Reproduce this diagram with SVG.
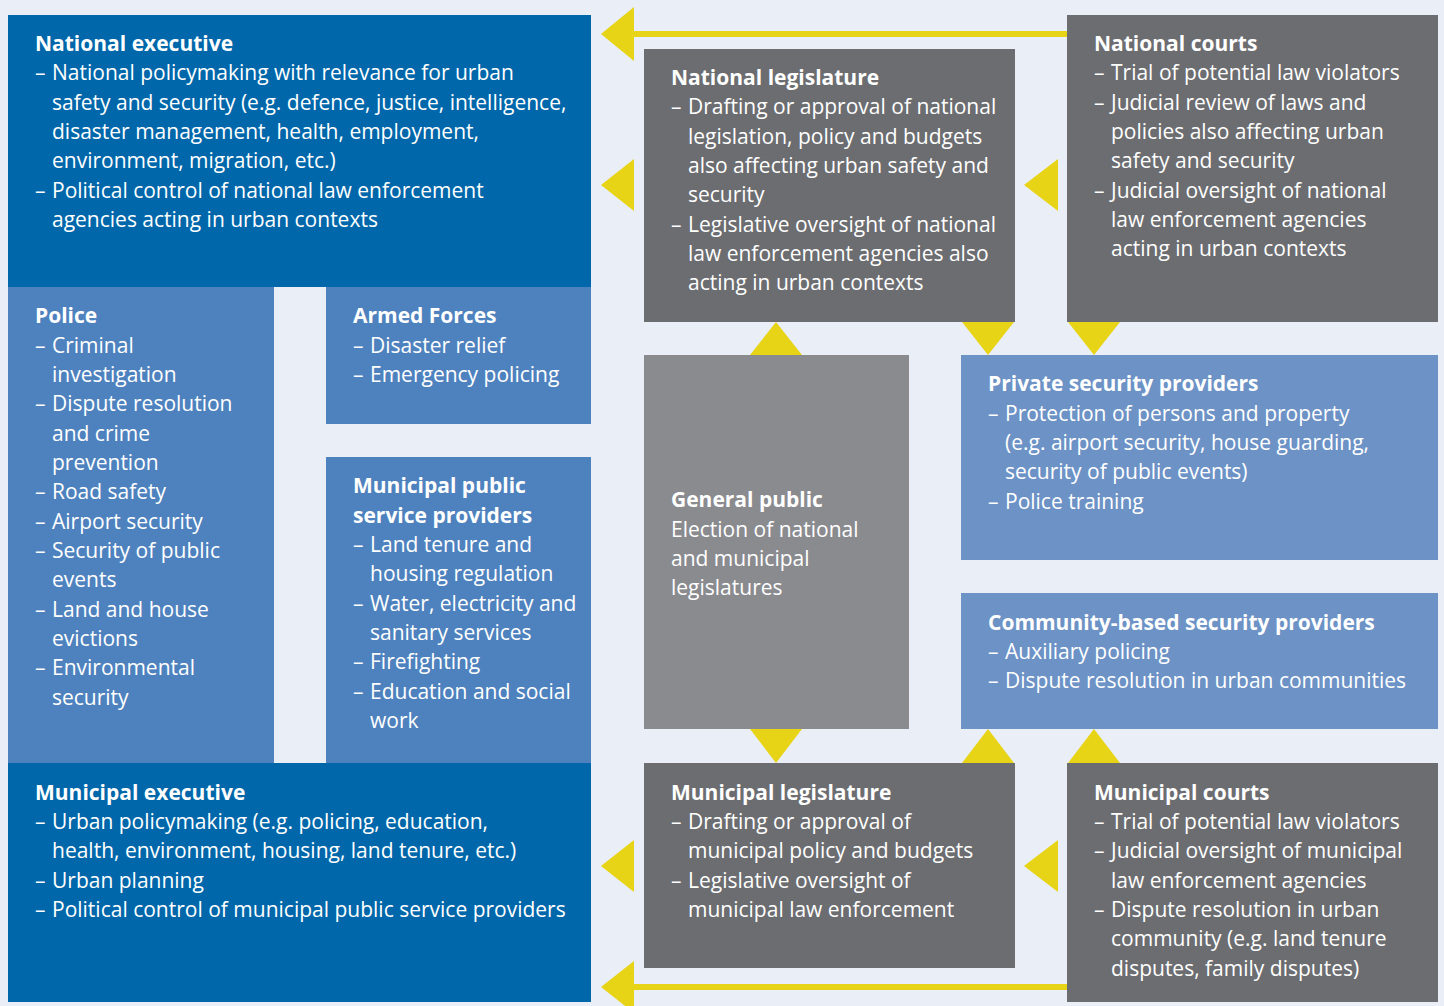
<svg xmlns="http://www.w3.org/2000/svg" width="1444" height="1006" viewBox="0 0 1444 1006">
<style>
text{font-family:"Open Sans","Noto Sans","Liberation Sans",sans-serif;font-size:21px;fill:#ffffff}
.t{font-weight:bold}
.dk{fill:#0067aa}
.md{fill:#4e82be}
.lt{fill:#6c92c6}
.gr{fill:#6c6d71}
.gp{fill:#8a8b8f}
.ar{fill:#e8d417}
.ln{stroke:#e8d417;stroke-width:6;fill:none}
</style>
<rect width="1444" height="1006" fill="#eaeef6"/>
<g id="national-executive">
<rect class="dk" x="8" y="15" width="583" height="272"/>
<text><tspan class="t" x="35" y="51">National executive</tspan></text>
<text><tspan x="35" y="80">–</tspan><tspan x="52" y="80">National policymaking with relevance for urban</tspan><tspan x="52" y="110">safety and security (e.g. defence, justice, intelligence,</tspan><tspan x="52" y="139">disaster management, health, employment,</tspan><tspan x="52" y="168">environment, migration, etc.)</tspan><tspan x="35" y="198">–</tspan><tspan x="52" y="198">Political control of national law enforcement</tspan><tspan x="52" y="227">agencies acting in urban contexts</tspan></text>
</g>
<g id="police">
<rect class="md" x="8" y="287" width="266" height="476"/>
<text><tspan class="t" x="35" y="323">Police</tspan></text>
<text><tspan x="35" y="353">–</tspan><tspan x="52" y="353">Criminal</tspan><tspan x="52" y="382">investigation</tspan><tspan x="35" y="411">–</tspan><tspan x="52" y="411">Dispute resolution</tspan><tspan x="52" y="441">and crime</tspan><tspan x="52" y="470">prevention</tspan><tspan x="35" y="499">–</tspan><tspan x="52" y="499">Road safety</tspan><tspan x="35" y="529">–</tspan><tspan x="52" y="529">Airport security</tspan><tspan x="35" y="558">–</tspan><tspan x="52" y="558">Security of public</tspan><tspan x="52" y="587">events</tspan><tspan x="35" y="617">–</tspan><tspan x="52" y="617">Land and house</tspan><tspan x="52" y="646">evictions</tspan><tspan x="35" y="675">–</tspan><tspan x="52" y="675">Environmental</tspan><tspan x="52" y="705">security</tspan></text>
</g>
<g id="armed-forces">
<rect class="md" x="326" y="287" width="265" height="137"/>
<text><tspan class="t" x="353" y="323">Armed Forces</tspan></text>
<text><tspan x="353" y="353">–</tspan><tspan x="370" y="353">Disaster relief</tspan><tspan x="353" y="382">–</tspan><tspan x="370" y="382">Emergency policing</tspan></text>
</g>
<g id="municipal-public-service-providers">
<rect class="md" x="326" y="457" width="265" height="306"/>
<text class="t"><tspan x="353" y="493">Municipal public</tspan><tspan x="353" y="523">service providers</tspan></text>
<text><tspan x="353" y="552">–</tspan><tspan x="370" y="552">Land tenure and</tspan><tspan x="370" y="581">housing regulation</tspan><tspan x="353" y="611">–</tspan><tspan x="370" y="611">Water, electricity and</tspan><tspan x="370" y="640">sanitary services</tspan><tspan x="353" y="669">–</tspan><tspan x="370" y="669">Firefighting</tspan><tspan x="353" y="699">–</tspan><tspan x="370" y="699">Education and social</tspan><tspan x="370" y="728">work</tspan></text>
</g>
<g id="municipal-executive">
<rect class="dk" x="8" y="763" width="583" height="239"/>
<text><tspan class="t" x="35" y="800">Municipal executive</tspan></text>
<text><tspan x="35" y="829">–</tspan><tspan x="52" y="829">Urban policymaking (e.g. policing, education,</tspan><tspan x="52" y="858">health, environment, housing, land tenure, etc.)</tspan><tspan x="35" y="888">–</tspan><tspan x="52" y="888">Urban planning</tspan><tspan x="35" y="917">–</tspan><tspan x="52" y="917">Political control of municipal public service providers</tspan></text>
</g>
<g id="national-legislature">
<rect class="gr" x="644" y="49" width="371" height="273"/>
<text><tspan class="t" x="671" y="85">National legislature</tspan></text>
<text><tspan x="671" y="114">–</tspan><tspan x="688" y="114">Drafting or approval of national</tspan><tspan x="688" y="144">legislation, policy and budgets</tspan><tspan x="688" y="173">also affecting urban safety and</tspan><tspan x="688" y="202">security</tspan><tspan x="671" y="232">–</tspan><tspan x="688" y="232">Legislative oversight of national</tspan><tspan x="688" y="261">law enforcement agencies also</tspan><tspan x="688" y="290">acting in urban contexts</tspan></text>
</g>
<g id="national-courts">
<rect class="gr" x="1067" y="15" width="371" height="307"/>
<text><tspan class="t" x="1094" y="51">National courts</tspan></text>
<text><tspan x="1094" y="80">–</tspan><tspan x="1111" y="80">Trial of potential law violators</tspan><tspan x="1094" y="110">–</tspan><tspan x="1111" y="110">Judicial review of laws and</tspan><tspan x="1111" y="139">policies also affecting urban</tspan><tspan x="1111" y="168">safety and security</tspan><tspan x="1094" y="198">–</tspan><tspan x="1111" y="198">Judicial oversight of national</tspan><tspan x="1111" y="227">law enforcement agencies</tspan><tspan x="1111" y="256">acting in urban contexts</tspan></text>
</g>
<g id="general-public">
<rect class="gp" x="644" y="355" width="265" height="374"/>
<text><tspan class="t" x="671" y="507">General public</tspan></text>
<text><tspan x="671" y="537">Election of national</tspan><tspan x="671" y="566">and municipal</tspan><tspan x="671" y="595">legislatures</tspan></text>
</g>
<g id="private-security-providers">
<rect class="lt" x="961" y="355" width="477" height="205"/>
<text><tspan class="t" x="988" y="391">Private security providers</tspan></text>
<text><tspan x="988" y="421">–</tspan><tspan x="1005" y="421">Protection of persons and property</tspan><tspan x="1005" y="450">(e.g. airport security, house guarding,</tspan><tspan x="1005" y="479">security of public events)</tspan><tspan x="988" y="509">–</tspan><tspan x="1005" y="509">Police training</tspan></text>
</g>
<g id="community-based-security-providers">
<rect class="lt" x="961" y="593" width="477" height="136"/>
<text><tspan class="t" x="988" y="630">Community-based security providers</tspan></text>
<text><tspan x="988" y="659">–</tspan><tspan x="1005" y="659">Auxiliary policing</tspan><tspan x="988" y="688">–</tspan><tspan x="1005" y="688">Dispute resolution in urban communities</tspan></text>
</g>
<g id="municipal-legislature">
<rect class="gr" x="644" y="763" width="371" height="205"/>
<text><tspan class="t" x="671" y="800">Municipal legislature</tspan></text>
<text><tspan x="671" y="829">–</tspan><tspan x="688" y="829">Drafting or approval of</tspan><tspan x="688" y="858">municipal policy and budgets</tspan><tspan x="671" y="888">–</tspan><tspan x="688" y="888">Legislative oversight of</tspan><tspan x="688" y="917">municipal law enforcement</tspan></text>
</g>
<g id="municipal-courts">
<rect class="gr" x="1067" y="763" width="371" height="239"/>
<text><tspan class="t" x="1094" y="800">Municipal courts</tspan></text>
<text><tspan x="1094" y="829">–</tspan><tspan x="1111" y="829">Trial of potential law violators</tspan><tspan x="1094" y="858">–</tspan><tspan x="1111" y="858">Judicial oversight of municipal</tspan><tspan x="1111" y="888">law enforcement agencies</tspan><tspan x="1094" y="917">–</tspan><tspan x="1111" y="917">Dispute resolution in urban</tspan><tspan x="1111" y="946">community (e.g. land tenure</tspan><tspan x="1111" y="976">disputes, family disputes)</tspan></text>
</g>
<g id="connectors">
<line class="ln" x1="630" y1="34" x2="1067" y2="34"/>
<polygon class="ar" points="601,34 634,7 634,61"/>
<polygon class="ar" points="601,185 634,159 634,211"/>
<polygon class="ar" points="1024,185 1058,159 1058,211"/>
<polygon class="ar" points="776,322 750,355 802,355"/>
<polygon class="ar" points="962,322 1014,322 988,355"/>
<polygon class="ar" points="1068,322 1120,322 1094,355"/>
<polygon class="ar" points="750,729 802,729 776,763"/>
<polygon class="ar" points="988,729 962,763 1014,763"/>
<polygon class="ar" points="1094,729 1068,763 1120,763"/>
<polygon class="ar" points="601,866 634,840 634,892"/>
<polygon class="ar" points="1024,866 1058,840 1058,892"/>
<line class="ln" x1="630" y1="987" x2="1067" y2="987"/>
<polygon class="ar" points="601,987 634,961 634,1013"/>
</g>
</svg>
